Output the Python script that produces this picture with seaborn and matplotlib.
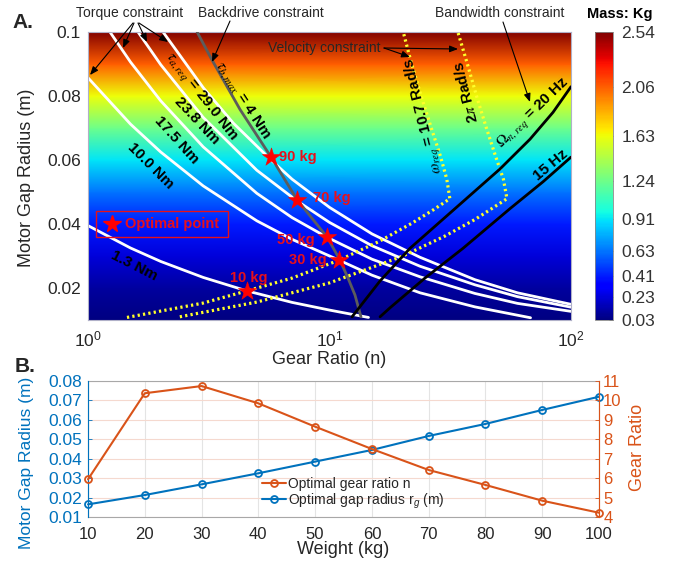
import numpy as np
import pandas as pd
import matplotlib
matplotlib.use("Agg")
import matplotlib.pyplot as plt
import seaborn as sns
from matplotlib.patches import Rectangle, FancyArrowPatch
from matplotlib.lines import Line2D

# ---------------- Panel A data ----------------
radius_grid = [0.01, 0.02, 0.03, 0.04, 0.05, 0.06, 0.07, 0.08, 0.09, 0.10]
mass_grid = [0.03, 0.10, 0.23, 0.41, 0.63, 0.91, 1.24, 1.63, 2.06, 2.54]
gear_extent = [1, 100]
cbar_ticks = [0.03, 0.23, 0.41, 0.63, 0.91, 1.24, 1.63, 2.06, 2.54]

# torque constraint curves (gear ratio n, gap radius r)
torque_290_n = [2.045, 3, 4, 5.73, 7, 10, 15, 23.7, 40, 60, 100]
torque_290_r = [0.100, 0.0826, 0.0715, 0.0600, 0.0540, 0.0452, 0.0369, 0.0296, 0.0226, 0.0185, 0.0149]
torque_238_n = [1.611, 2, 3, 5, 7.34, 10, 15, 23.7, 40, 60, 100]
torque_238_r = [0.100, 0.0898, 0.0733, 0.0568, 0.0472, 0.0405, 0.0332, 0.0268, 0.0210, 0.0173, 0.0140]
torque_175_n = [1.233, 1.5, 2, 3, 5, 7, 9.8, 15, 23.7, 40, 60, 100]
torque_175_r = [0.100, 0.0906, 0.0785, 0.0641, 0.0496, 0.0420, 0.0358, 0.0290, 0.0235, 0.0183, 0.0152, 0.0127]
torque_100_n = [1, 1.5, 2, 3, 5, 7, 10.95, 15, 23.7, 40, 68]
torque_100_r = [0.0857, 0.0712, 0.0625, 0.0519, 0.0410, 0.0352, 0.0287, 0.0240, 0.0185, 0.0141, 0.0107]
torque_013_n = [1, 1.5, 2, 3, 4.55, 7, 10, 14.5]
torque_013_r = [0.0395, 0.0325, 0.0283, 0.0233, 0.0191, 0.0155, 0.0131, 0.0108]

# backdrive constraint
backdrive_n = [2.83, 3.26, 4.26, 5.73, 7.34, 9.8, 11.05, 11.93, 12.75, 13.5]
backdrive_r = [0.100, 0.0913, 0.0758, 0.0609, 0.0476, 0.0358, 0.0287, 0.0231, 0.0178, 0.0110]

# velocity constraint (dotted)
vel_107_n = [1.45, 3, 4.55, 7, 10.95, 16, 22, 27, 31.5, 30.6, 28.8, 26.5, 24.0, 21.8, 20.2]
vel_107_r = [0.0108, 0.0153, 0.0191, 0.0231, 0.0287, 0.0345, 0.0403, 0.0445, 0.0479,
             0.0540, 0.0612, 0.0696, 0.0798, 0.0904, 0.100]
vel_2pi_n = [2.4, 5, 10, 20, 30, 40, 54.3, 52.5, 48.7, 44.8, 40.7, 37.1, 34.0]
vel_2pi_r = [0.0110, 0.0156, 0.0216, 0.0299, 0.0362, 0.0414, 0.0479, 0.0540, 0.0612,
             0.0696, 0.0798, 0.0904, 0.100]

# bandwidth constraint
bw_20_n = [12.4, 16.19, 21.54, 33.09, 50.82, 67.65, 84.24, 100]
bw_20_r = [0.0110, 0.0222, 0.0324, 0.0448, 0.0572, 0.0665, 0.0749, 0.0829]
bw_15_n = [16.19, 17.8, 24.85, 35.71, 55.9, 76.6, 100]
bw_15_r = [0.0110, 0.0138, 0.0231, 0.0324, 0.0448, 0.0532, 0.0609]

# optimal points
star_labels = ["10 kg", "30 kg", "50 kg", "70 kg", "90 kg"]
star_n = [4.55, 10.95, 9.8, 7.34, 5.73]
star_r = [0.0191, 0.0287, 0.0358, 0.0476, 0.0609]

# ---------------- Panel B data ----------------
weight_kg = [10, 20, 30, 40, 50, 60, 70, 80, 90, 100]
gap_radius_m = [0.0165, 0.0213, 0.0268, 0.0325, 0.0385, 0.0445, 0.0517, 0.0579, 0.0651, 0.0719]
gear_ratio = [5.94, 10.37, 10.74, 9.85, 8.65, 7.50, 6.42, 5.65, 4.84, 4.22]
left_ticks = [0.01, 0.02, 0.03, 0.04, 0.05, 0.06, 0.07, 0.08]
right_ticks = [4, 5, 6, 7, 8, 9, 10, 11]

# ---------------- style ----------------
sns.set_style("white")
plt.rcParams["font.family"] = ["Liberation Sans", "DejaVu Sans"]
plt.rcParams["mathtext.fontset"] = "custom"
plt.rcParams["mathtext.rm"] = "Liberation Sans"
plt.rcParams["mathtext.it"] = "Liberation Sans:italic"
plt.rcParams["mathtext.bf"] = "Liberation Sans:bold"

W, H = 682, 566
fig = plt.figure(figsize=(W / 100, H / 100), dpi=100)


def P(x, y):
    return (x / W, 1 - y / H)


def box(l, t, r, b):
    return [l / W, 1 - b / H, (r - l) / W, (b - t) / H]


axA = fig.add_axes(box(88, 32, 571, 320))
cax = fig.add_axes(box(595, 32, 613, 320))
axB = fig.add_axes(box(88, 381, 599, 517))

TXT = "#262626"

# ---------------- Panel A ----------------
X, Y = np.meshgrid(gear_extent, radius_grid)
C = np.repeat(np.array(mass_grid)[:, None], len(gear_extent), axis=1)
mesh = axA.pcolormesh(X, Y, C, cmap="jet", shading="gouraud",
                      vmin=cbar_ticks[0], vmax=cbar_ticks[-1], zorder=0)
axA.set_xscale("log")

for n, r in [(torque_290_n, torque_290_r), (torque_238_n, torque_238_r),
             (torque_175_n, torque_175_r), (torque_100_n, torque_100_r),
             (torque_013_n, torque_013_r)]:
    sns.lineplot(x=n, y=r, ax=axA, sort=False, estimator=None,
                 color="white", lw=2.0, zorder=2)

sns.lineplot(x=backdrive_n, y=backdrive_r, ax=axA, sort=False, estimator=None,
             color="#5c5c5c", lw=2.0, zorder=3)

for n, r in [(vel_107_n, vel_107_r), (vel_2pi_n, vel_2pi_r)]:
    sns.lineplot(x=n, y=r, ax=axA, sort=False, estimator=None,
                 color="#ffff2a", lw=2.3, linestyle=(0, (0.7, 1.0)), zorder=3)

for n, r in [(bw_20_n, bw_20_r), (bw_15_n, bw_15_r)]:
    sns.lineplot(x=n, y=r, ax=axA, sort=False, estimator=None,
                 color="black", lw=2.0, zorder=3)

sns.scatterplot(x=star_n, y=star_r, ax=axA, marker="*", s=190,
                color="#ff0000", edgecolor="#ff0000", linewidth=0.4, zorder=5)

axA.set_xlim(gear_extent[0], gear_extent[-1])
axA.set_ylim(radius_grid[0], radius_grid[-1])
axA.set_xticks([1, 10, 100])
axA.set_xticklabels([r"$10^{0}$", r"$10^{1}$", r"$10^{2}$"])
axA.set_yticks([0.02, 0.04, 0.06, 0.08, 0.1])
axA.set_yticklabels(["0.02", "0.04", "0.06", "0.08", "0.1"])
axA.minorticks_off()
axA.tick_params(axis="both", length=0, labelsize=12.5, labelcolor=TXT)
axA.tick_params(axis="x", pad=7)
axA.tick_params(axis="y", pad=5)
axA.set_xlabel("")
axA.set_ylabel("")
for s in axA.spines.values():
    s.set_color("#b0b0c8")
    s.set_linewidth(0.8)

# colorbar
cb = fig.colorbar(mesh, cax=cax, ticks=cbar_ticks)
cb.ax.set_yticklabels([f"{t:.2f}" for t in cbar_ticks])
cb.ax.tick_params(labelsize=12.5, labelcolor="#333333", length=3, width=0.6,
                  direction="in", pad=6, color="#666666")
cb.outline.set_edgecolor("#888888")
cb.outline.set_linewidth(0.6)

# axis labels panel A
fig.text(*P(329, 360), "Gear Ratio (n)", ha="center", va="center", fontsize=13, color=TXT)
fig.text(*P(27, 178), "Motor Gap Radius (m)", ha="center", va="center",
         rotation=90, fontsize=13, color=TXT)

# constraint labels
lab_kw = dict(ha="center", va="center", rotation_mode="anchor", fontsize=11,
              fontweight="bold", color="black", math_fontfamily="stix", zorder=6)
fig.text(*P(200, 97), r"$\tau_{a,req}$ = 29.0 Nm", rotation=-52, **lab_kw)
fig.text(*P(197, 121), "23.8 Nm", rotation=-47, **lab_kw)
fig.text(*P(177, 140), "17.5 Nm", rotation=-48, **lab_kw)
fig.text(*P(151, 166), "10.0 Nm", rotation=-45, **lab_kw)
fig.text(*P(134, 266), "1.3 Nm", rotation=-27, **lab_kw)
fig.text(*P(243, 100), r"$\tau_{b,max}$ = 4 Nm", rotation=-57, **lab_kw)
fig.text(*P(424, 115), r"$\omega_{req}$ = 10.7 Rad/s", rotation=104, **lab_kw)
fig.text(*P(466, 92), r"2$\pi$ Rad/s", rotation=104, **lab_kw)
fig.text(*P(534, 114), r"$\Omega_{n,req}$ = 20 Hz", rotation=44, **lab_kw)
fig.text(*P(551, 165), "15 Hz", rotation=40, **lab_kw)

# star labels
red = "#e8101a"
sk = dict(fontsize=10.5, fontweight="bold", color=red, va="center")
fig.text(*P(249, 278), "10 kg", ha="center", **sk)
fig.text(*P(327, 260), "30 kg", ha="right", **sk)
fig.text(*P(315, 240), "50 kg", ha="right", **sk)
fig.text(*P(313, 198), "70 kg", ha="left", **sk)
fig.text(*P(279, 157), "90 kg", ha="left", **sk)

# optimal point legend box
fig.add_artist(Rectangle(P(96, 237), (228 - 96) / W, (237 - 211) / H,
                         transform=fig.transFigure, fill=False, ec=red, lw=1.0))
fig.add_artist(Line2D([P(112, 224)[0]], [P(112, 224)[1]], marker="*", ms=13,
                      color="#ff0000", transform=fig.transFigure))
fig.text(*P(125, 224), "Optimal point", ha="left", **sk)

# annotations
ak = dict(fontsize=10, color=TXT, ha="center", va="center")
fig.text(*P(130, 13), "Torque constraint", **ak)
fig.text(*P(261, 13), "Backdrive constraint", **ak)
fig.text(*P(500, 13), "Bandwidth constraint", **ak)
fig.text(*P(324, 48), "Velocity constraint", zorder=6, **ak)
fig.text(*P(620, 14), "Mass: Kg", ha="center", va="center", fontsize=10.5,
         fontweight="bold", color="black")
fig.text(*P(23, 23), "A.", ha="center", va="center", fontsize=15, fontweight="bold")
fig.text(*P(25, 367), "B.", ha="center", va="center", fontsize=15, fontweight="bold")


def arrow(x0, y0, x1, y1):
    fig.add_artist(FancyArrowPatch(P(x0, y0), P(x1, y1), transform=fig.transFigure,
                                   arrowstyle="-|>,head_length=0.5,head_width=0.2",
                                   mutation_scale=10, lw=0.8, color="black",
                                   shrinkA=0, shrinkB=0, zorder=7))


arrow(133, 23, 90, 75)
arrow(134, 23, 123, 48)
arrow(138, 23, 147, 42)
arrow(139, 23, 168, 42)
arrow(230, 21, 212, 62)
arrow(384, 48, 410, 57)
arrow(384, 48, 458, 49)
arrow(503, 22, 530, 102)

# ---------------- Panel B ----------------
blue = "#0072BD"
orange = "#D95319"
sns.lineplot(x=weight_kg, y=gap_radius_m, ax=axB, color=blue, lw=1.5, marker="o",
             ms=5, mfc="none", mec=blue, mew=1.3, clip_on=False, zorder=3)
axB2 = axB.twinx()
sns.lineplot(x=weight_kg, y=gear_ratio, ax=axB2, color=orange, lw=1.5, marker="o",
             ms=5, mfc="none", mec=orange, mew=1.3, clip_on=False, zorder=3)

axB.set_xlim(weight_kg[0], weight_kg[-1])
axB.set_ylim(left_ticks[0], left_ticks[-1])
axB2.set_ylim(right_ticks[0], right_ticks[-1])
axB.set_xticks(weight_kg)
axB.set_yticks(left_ticks)
axB.set_yticklabels([f"{v:.2f}" for v in left_ticks])
axB2.set_yticks(right_ticks)
axB.set_xlabel("")
axB.set_ylabel("")
axB2.set_ylabel("")

axB.grid(True, axis="x", color="#e4e4e4", lw=0.8)
axB.grid(True, axis="y", color="#f5d9cf", lw=0.8)
axB.set_axisbelow(True)

axB.tick_params(axis="x", direction="in", length=3, width=0.6, color="#999999",
                labelsize=12, labelcolor=TXT, pad=7)
axB.tick_params(axis="y", direction="in", length=3, width=0.6, color=blue,
                labelsize=12.5, labelcolor=blue, pad=4)
axB2.tick_params(axis="y", direction="in", length=3, width=0.6, color=orange,
                 labelsize=12, labelcolor=orange, pad=3)
for s in axB.spines.values():
    s.set_color("#a8a8a8")
    s.set_linewidth(0.8)
for name, s in axB2.spines.items():
    s.set_linewidth(0.8)
    if name == "right":
        s.set_color(orange)
    elif name == "left":
        s.set_color(blue)
    else:
        s.set_visible(False)

fig.text(*P(343, 550), "Weight (kg)", ha="center", va="center", fontsize=13, color=TXT)
fig.text(*P(27, 463), "Motor Gap Radius (m)", ha="center", va="center",
         rotation=90, fontsize=12.5, color=blue)
fig.text(*P(637, 447), "Gear Ratio", ha="center", va="center",
         rotation=90, fontsize=13, color=orange)

handles = [axB2.lines[0], axB.lines[0]]
axB2.legend(handles, ["Optimal gear ratio n", "Optimal gap radius r$_g$ (m)"],
            loc="center left", bbox_to_anchor=P(262, 494), bbox_transform=fig.transFigure,
            frameon=False, fontsize=10, labelspacing=0.0, handlelength=1.7,
            handletextpad=0.2, borderpad=0, borderaxespad=0)

fig.savefig("out.png", dpi=100)
